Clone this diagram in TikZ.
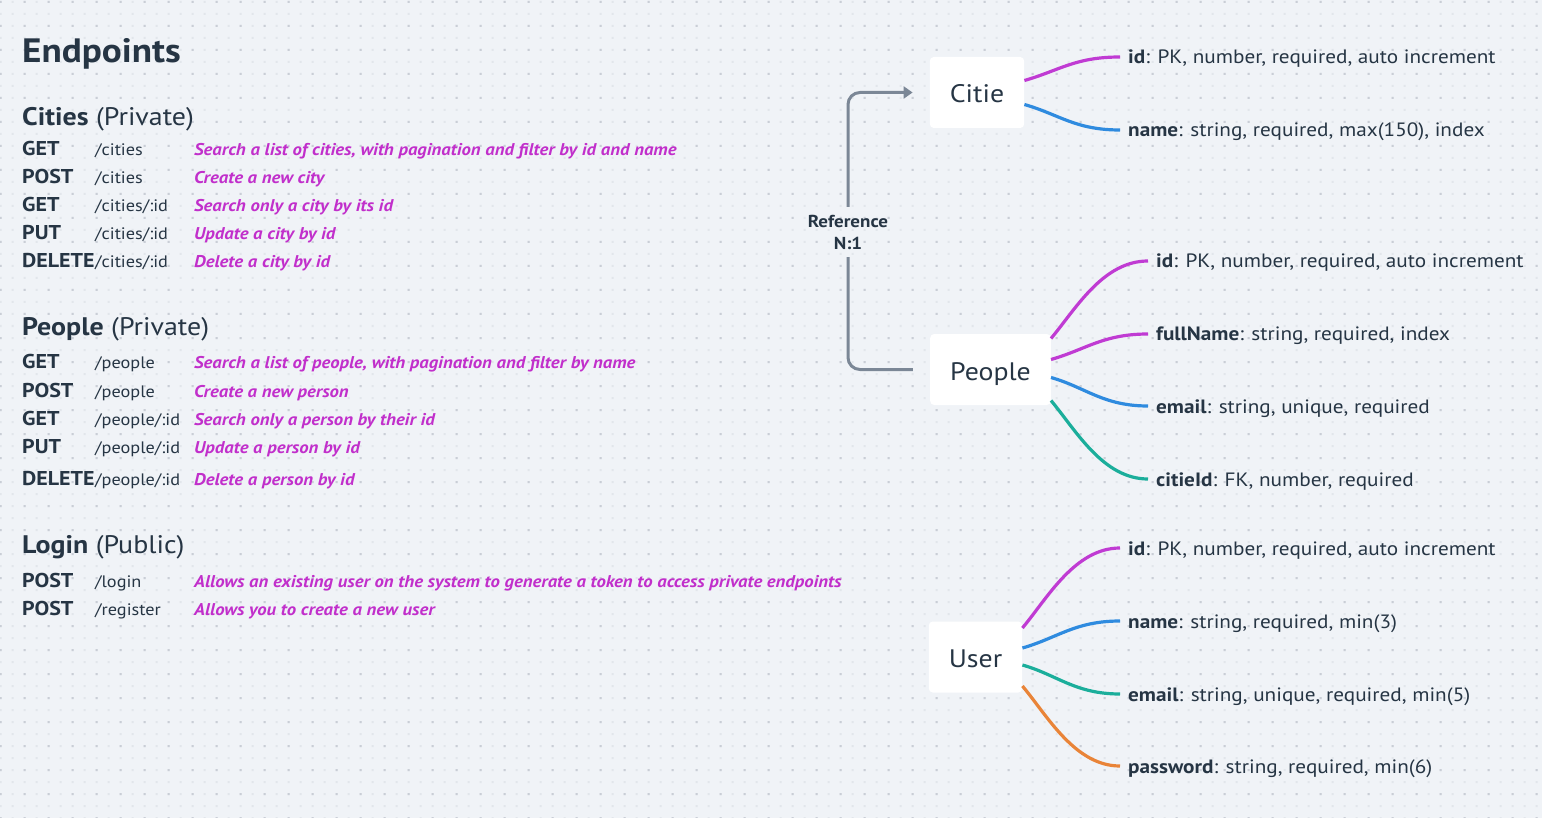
\documentclass[tikz,border=0pt]{standalone}
\usepackage{fontspec}
\setmainfont{PT Sans}[FakeStretch=1.1]
\usetikzlibrary{arrows.meta,calc,positioning}
\definecolor{bg}{HTML}{F0F3F7}
\definecolor{dotlt}{HTML}{E2E6EB}
\definecolor{dotdk}{HTML}{C9CED6}
\definecolor{ink}{HTML}{263544}
\definecolor{notec}{HTML}{C12FCB}
\definecolor{mag}{HTML}{C03BD3}
\definecolor{blu}{HTML}{2F8BDF}
\definecolor{teal}{HTML}{1BAE9B}
\definecolor{orng}{HTML}{E98438}
\definecolor{refgray}{HTML}{7B8796}
\tikzset{
  txt/.style={inner sep=0pt, anchor=base west, text=ink},
  ttl/.style={txt, font=\fontsize{33.8}{40}\selectfont\bfseries},
  grp/.style={txt, font=\fontsize{25.4}{30}\selectfont},
  verb/.style={txt, font=\fontsize{20}{24}\selectfont\bfseries},
  route/.style={txt, font=\fontsize{16.6}{20}\selectfont},
  note/.style={txt, text=notec, font=\fontsize{17}{20}\selectfont\bfseries\itshape},
  entity/.style={fill=white, rounded corners=4pt, inner xsep=20pt, inner ysep=0pt,
    minimum height=71pt, text height=21pt, text depth=0pt,
    font=\fontsize{25.3}{30}\selectfont, text=ink},
  field/.style={anchor=west, inner sep=0pt, inner xsep=8pt, text height=14pt,
    text depth=0pt, font=\fontsize{19.3}{23}\selectfont, text=ink},
  branch/.style={line width=3.2pt},
  refline/.style={line width=3pt, draw=refgray, rounded corners=12pt},
  reflabel/.style={inner sep=0pt, minimum height=50pt, align=center, text=ink,
    font=\fontsize{17.3}{22}\selectfont\bfseries},
}
% one endpoint row: name, baseline, verb, route, note
\newcommand\eprow[5]{%
  \node[verb] (#1v) at (22,#2) {#3};
  \node[route] (#1r) at (95,#2) {#4};
  \node[note] (#1n) at (194,#2) {#5};}

\begin{document}
\begin{tikzpicture}[x=1pt, y=-1pt]
  % canvas with dotted grid
  \useasboundingbox (0,0) rectangle (1542,818);
  \fill[bg] (0,0) rectangle (1542,818);
  \foreach \j in {0,...,68}
    \fill[dotlt] \foreach \i in {0,...,128} {(\i*12-0.3,\j*12+1) rectangle ++(2,2)};
  \foreach \j in {0,...,34}
    \fill[dotdk] \foreach \i in {0,...,64} {(\i*24-0.3,\j*24+1) rectangle ++(2,2)};

  % endpoint list
  \node[ttl] (title) at (22,63) {Endpoints};

  \node[grp] (hcities) at (22,126) {\textbf{Cities} (Private)};
  \eprow{c1}{156}{GET}{/cities}{Search a list of cities, with pagination and filter by id and name}
  \eprow{c2}{184}{POST}{/cities}{Create a new city}
  \eprow{c3}{212}{GET}{/cities/:id}{Search only a city by its id}
  \eprow{c4}{240}{PUT}{/cities/:id}{Update a city by id}
  \eprow{c5}{268}{DELETE}{/cities/:id}{Delete a city by id}

  \node[grp] (hpeople) at (22,335) {\textbf{People} (Private)};
  \eprow{p1}{368}{GET}{/people}{Search a list of people, with pagination and filter by name}
  \eprow{p2}{397}{POST}{/people}{Create a new person}
  \eprow{p3}{425}{GET}{/people/:id}{Search only a person by their id}
  \eprow{p4}{453}{PUT}{/people/:id}{Update a person by id}
  \eprow{p5}{485}{DELETE}{/people/:id}{Delete a person by id}

  \node[grp] (hlogin) at (22,553) {\textbf{Login} (Public)};
  \eprow{l1}{587}{POST}{/login}{Allows an existing user on the system to generate a token to access private endpoints}
  \eprow{l2}{615}{POST}{/register}{Allows you to create a new user}

  % entities
  \node[entity] (ecitie) at (977,92.5) {Citie};
  \node[entity] (epeople) at (990.5,369.5) {People};
  \node[entity] (euser) at (975.5,657) {User};

  % fields
  \node[field] (cid) at (1120,57) {\textbf{id}: PK, number, required, auto increment};
  \node[field] (cname) at (1120,130) {\textbf{name}: string, required, max(150), index};
  \node[field] (pid) at (1148,261) {\textbf{id}: PK, number, required, auto increment};
  \node[field] (pname) at (1148,334) {\textbf{fullName}: string, required, index};
  \node[field] (pmail) at (1148,406) {\textbf{email}: string, unique, required};
  \node[field] (pcity) at (1148,479) {\textbf{citieId}: FK, number, required};
  \node[field] (uid) at (1120,548) {\textbf{id}: PK, number, required, auto increment};
  \node[field] (uname) at (1120,621) {\textbf{name}: string, required, min(3)};
  \node[field] (umail) at (1120,694) {\textbf{email}: string, unique, required, min(5)};
  \node[field] (upass) at (1120,766) {\textbf{password}: string, required, min(6)};

  % branches
  \draw[branch, mag] ($(ecitie.east)+(0,-12)$) .. controls +(35,-10) and +(-45,0) .. (cid.west);
  \draw[branch, blu] ($(ecitie.east)+(0,12)$) .. controls +(35,10) and +(-45,0) .. (cname.west);
  \draw[branch, mag] ($(epeople.east)+(0,-31)$) .. controls +(25,-30) and +(-45,0) .. (pid.west);
  \draw[branch, mag] ($(epeople.east)+(0,-10)$) .. controls +(35,-10) and +(-45,0) .. (pname.west);
  \draw[branch, blu] ($(epeople.east)+(0,8)$) .. controls +(35,10) and +(-45,0) .. (pmail.west);
  \draw[branch, teal] ($(epeople.east)+(0,31)$) .. controls +(25,30) and +(-45,0) .. (pcity.west);
  \draw[branch, mag] ($(euser.east)+(0,-29)$) .. controls +(25,-30) and +(-45,0) .. (uid.west);
  \draw[branch, blu] ($(euser.east)+(0,-9)$) .. controls +(35,-10) and +(-45,0) .. (uname.west);
  \draw[branch, teal] ($(euser.east)+(0,8)$) .. controls +(35,10) and +(-45,0) .. (umail.west);
  \draw[branch, orng] ($(euser.east)+(0,29)$) .. controls +(25,30) and +(-45,0) .. (upass.west);

  % N:1 reference people -> citie
  \node[reflabel] (ref) at (848,232) {Reference\\N:1};
  \draw[refline, shorten <=17pt] (epeople.west) -| (ref.south);
  \draw[refline, shorten >=17pt, -{Triangle[length=9pt,width=12pt]}] (ref.north) |- (ecitie.west);
\end{tikzpicture}
\end{document}
